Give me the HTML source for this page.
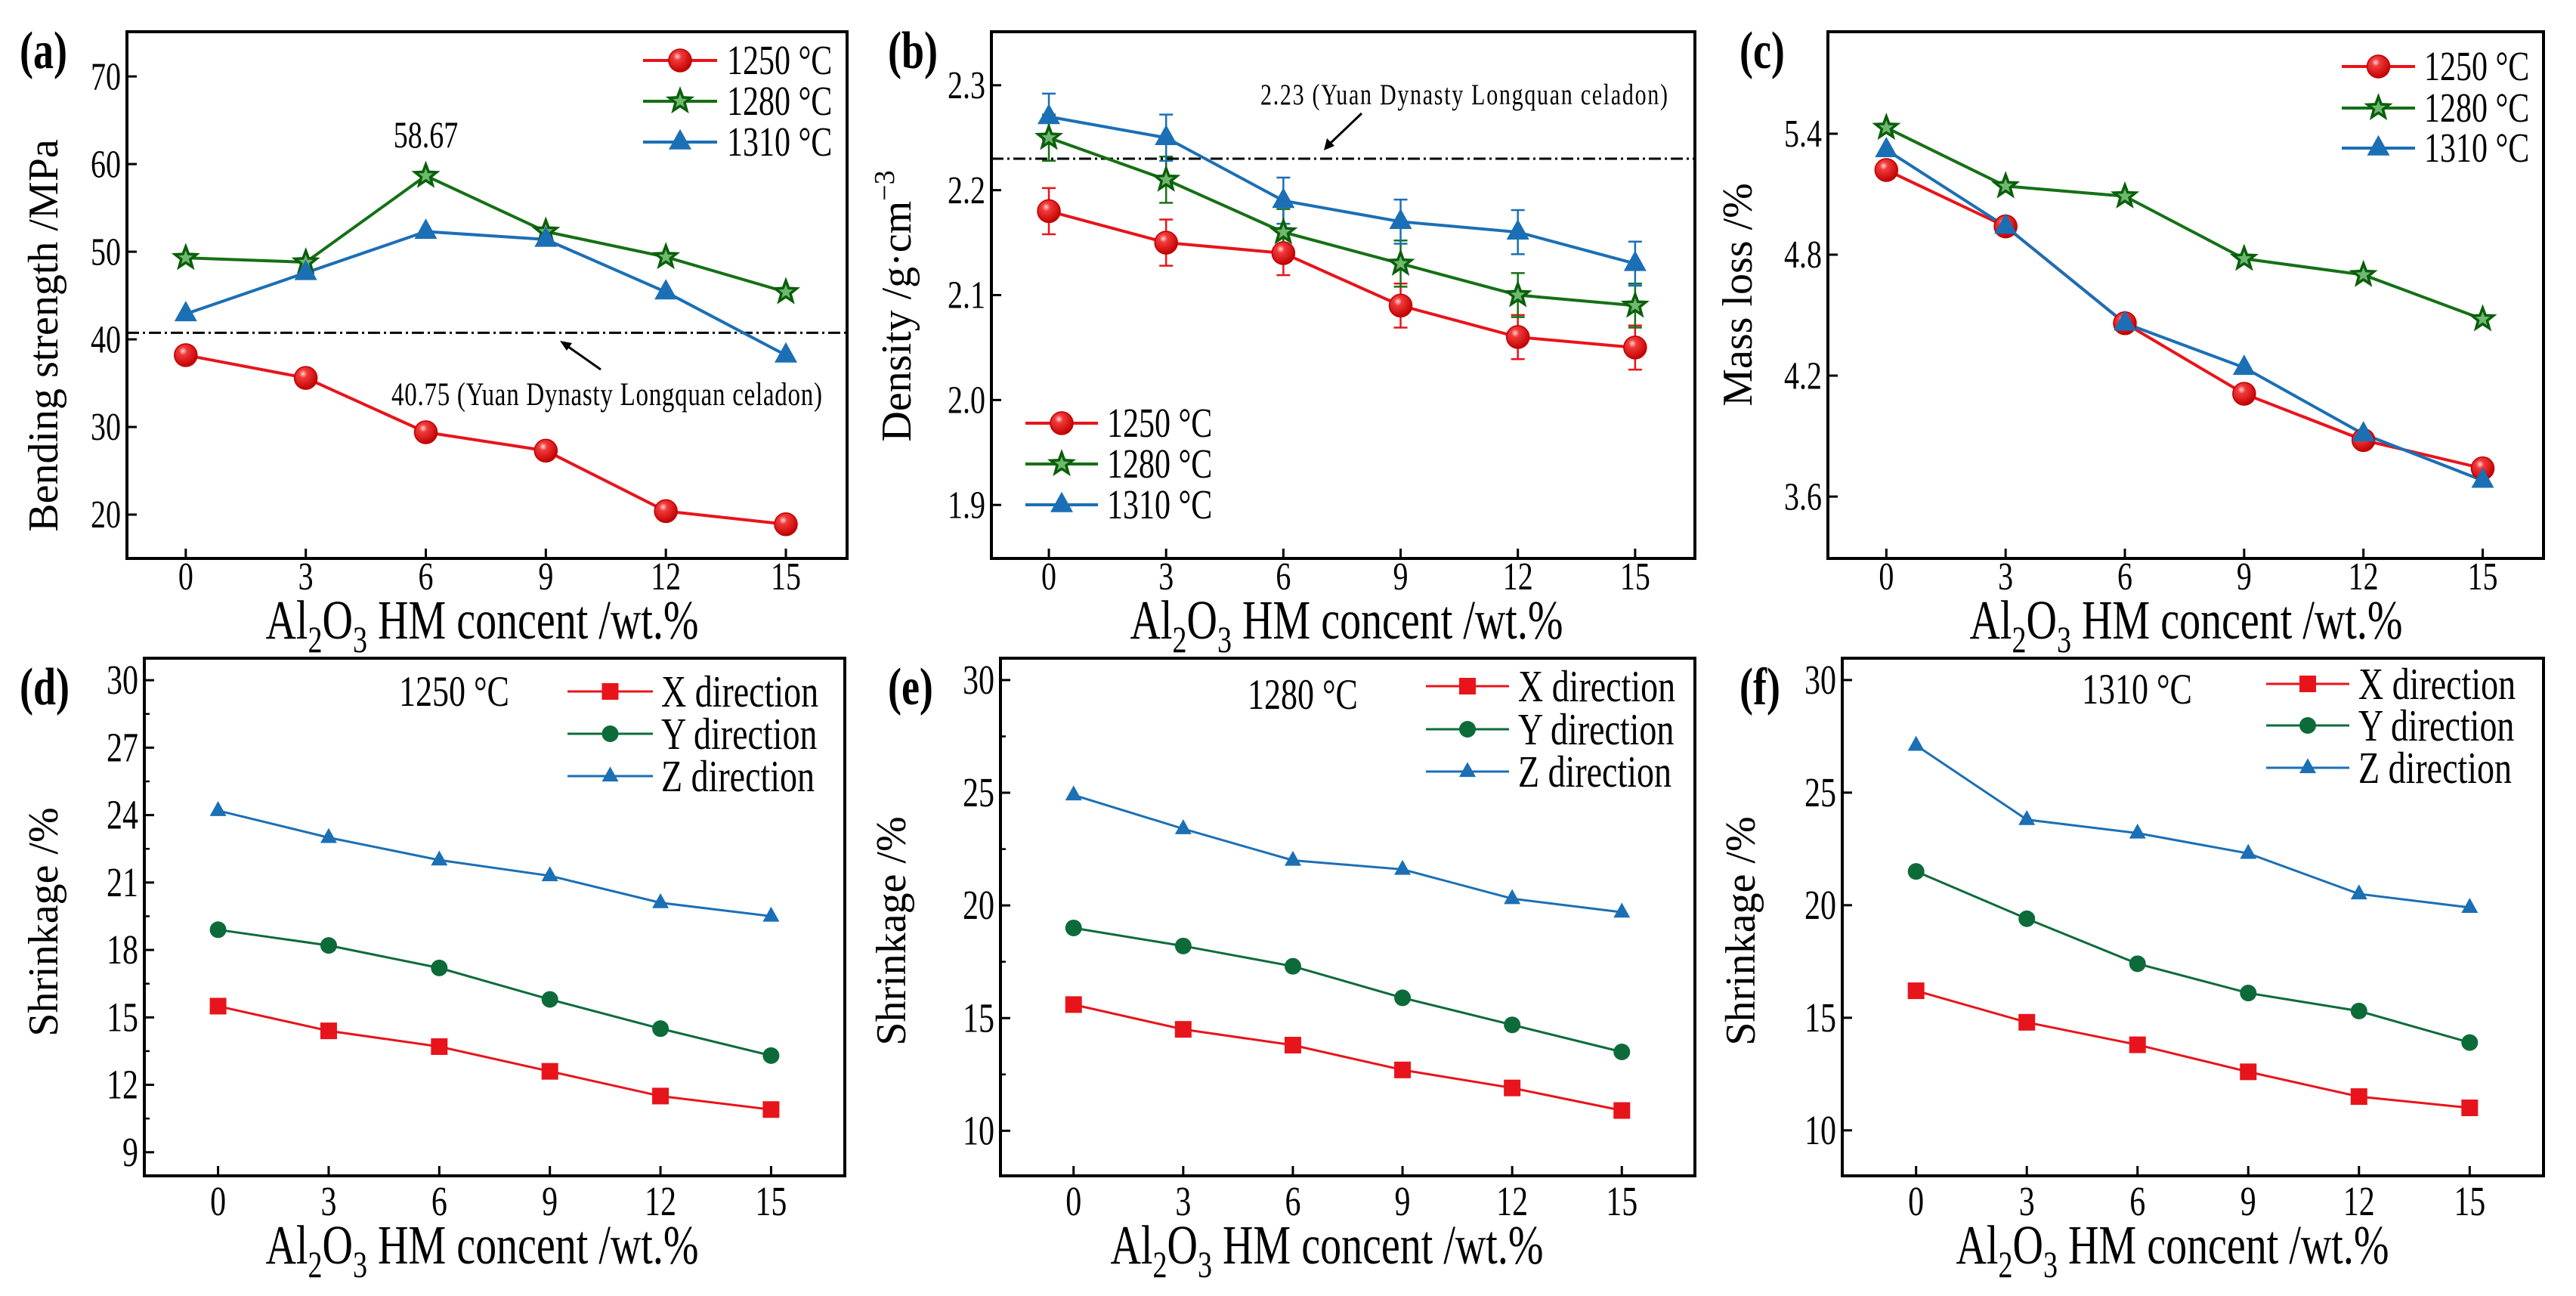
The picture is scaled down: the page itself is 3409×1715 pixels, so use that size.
<!DOCTYPE html>
<html><head><meta charset="utf-8"><style>
html,body{margin:0;padding:0;background:#fff;}
svg{display:block;font-family:"Liberation Serif",serif;}
</style></head><body>
<svg id="fig" width="3409" height="1715" viewBox="0 0 3409 1715" xmlns="http://www.w3.org/2000/svg">
<defs>
<radialGradient id="gRed" cx="38%" cy="32%" r="70%"><stop offset="0" stop-color="#ffd6d6"/><stop offset="0.25" stop-color="#f23a3a"/><stop offset="1" stop-color="#c00000"/></radialGradient>
</defs>
</svg>
<script>
// ---------- data ----------
const xCats = [0, 3, 6, 9, 12, 15];
const xTickLabels = ["0", "3", "6", "9", "12", "15"];
// (a) bending strength
const bend1250 = [38.2, 35.6, 29.4, 27.3, 20.4, 18.9];
const bend1280 = [49.3, 48.8, 58.67, 52.3, 49.4, 45.4];
const bend1310 = [42.9, 47.6, 52.3, 51.4, 45.4, 38.2];
const bendTicks = [20, 30, 40, 50, 60, 70];
const bendRef = 40.75;
// (b) density
const dens1250 = [2.18, 2.15, 2.14, 2.09, 2.06, 2.05];
const dens1280 = [2.25, 2.21, 2.16, 2.13, 2.10, 2.09];
const dens1310 = [2.27, 2.25, 2.19, 2.17, 2.16, 2.13];
const densErr1250 = [0.022, 0.022, 0.021, 0.021, 0.021, 0.021];
const densErr1280 = [0.022, 0.022, 0.022, 0.022, 0.021, 0.021];
const densErr1310 = [0.022, 0.022, 0.022, 0.021, 0.021, 0.021];
const densTicks = [1.9, 2.0, 2.1, 2.2, 2.3];
const densRef = 2.23;
// (c) mass loss
const mass1250 = [5.22, 4.94, 4.46, 4.11, 3.88, 3.74];
const mass1280 = [5.43, 5.14, 5.09, 4.78, 4.70, 4.48];
const mass1310 = [5.32, 4.94, 4.46, 4.24, 3.91, 3.68];
const massTicks = [3.6, 4.2, 4.8, 5.4];
// (d) shrinkage 1250
const shrD_X = [15.5, 14.4, 13.7, 12.6, 11.5, 10.9];
const shrD_Y = [18.9, 18.2, 17.2, 15.8, 14.5, 13.3];
const shrD_Z = [24.2, 23.0, 22.0, 21.3, 20.1, 19.5];
const shrDTicks = [9, 12, 15, 18, 21, 24, 27, 30];
// (e) shrinkage 1280
const shrE_X = [15.6, 14.5, 13.8, 12.7, 11.9, 10.9];
const shrE_Y = [19.0, 18.2, 17.3, 15.9, 14.7, 13.5];
const shrE_Z = [24.9, 23.4, 22.0, 21.6, 20.3, 19.7];
const shrETicks = [10, 15, 20, 25, 30];
// (f) shrinkage 1310
const shrF_X = [16.2, 14.8, 13.8, 12.6, 11.5, 11.0];
const shrF_Y = [21.5, 19.4, 17.4, 16.1, 15.3, 13.9];
const shrF_Z = [27.1, 23.8, 23.2, 22.3, 20.5, 19.9];
const shrFTicks = [10, 15, 20, 25, 30];

// ---------- drawing ----------
const NS = "http://www.w3.org/2000/svg";
const svg = document.getElementById("fig");
function el(tag, attrs, parent) {
  const e = document.createElementNS(NS, tag);
  for (const k in attrs) e.setAttribute(k, attrs[k]);
  (parent || svg).appendChild(e);
  return e;
}
const RED = "#e8141b", GREEN = "#157015", BLUE = "#1b6fb5", TEAL = "#0d6b3a";

function marker(g, type, cx, cy, s, color) {
  let m;
  if (type === "circle") {
    m = el("circle", {cx: cx, cy: cy, r: s, fill: "url(#gRed)", stroke: "#c00000", "stroke-width": 1.5}, g);
  } else if (type === "dot") {
    m = el("circle", {cx: cx, cy: cy, r: s, fill: color}, g);
  } else if (type === "square") {
    m = el("rect", {x: cx - s, y: cy - s, width: 2 * s, height: 2 * s, fill: color}, g);
  } else if (type === "tri") {
    m = el("polygon", {points: `${cx},${cy - s * 1.15} ${cx - s},${cy + s * 0.65} ${cx + s},${cy + s * 0.65}`, fill: color}, g);
  } else if (type === "star") {
    let pts = [];
    for (let i = 0; i < 10; i++) {
      const r = i % 2 === 0 ? s : s * 0.42;
      const a = -Math.PI / 2 + i * Math.PI / 5;
      pts.push((cx + r * Math.cos(a)).toFixed(1) + "," + (cy + r * Math.sin(a)).toFixed(1));
    }
    m = el("polygon", {points: pts.join(" "), fill: "#6fb86f", stroke: "#0b5e0b", "stroke-width": 3.5}, g);
  }
  
  
  return m;
}

function xTitle(g, cx, cy, fs) {
  const t = el("text", {x: cx, y: cy, "text-anchor": "middle", "font-size": fs, fill: "#000"}, g);
  
  
  t.innerHTML = 'Al<tspan font-size="' + (fs * 0.68) + '" dy="' + (fs * 0.25) + '">2</tspan><tspan dy="' + (-fs * 0.25) + '">O</tspan><tspan font-size="' + (fs * 0.68) + '" dy="' + (fs * 0.25) + '">3</tspan><tspan dy="' + (-fs * 0.25) + '"> HM concent /wt.%</tspan>';
}

function panel(c) {
  const g = el("g", {});
  
  
  const X = v => c.l + (v - c.x0) / (c.x1 - c.x0) * (c.r - c.l);
  const Y = v => c.b - (v - c.y0) / (c.y1 - c.y0) * (c.b - c.t);
  xCats.forEach((v, i) => {
    const tk = el("line", {x1: X(v), x2: X(v), y1: c.b, y2: c.b - 13, stroke: "#000", "stroke-width": 3}, g);
    
    
    const tl = el("text", {x: X(v), y: c.xlabY, "text-anchor": "middle", "font-size": c.tfs}, g);
    
    
    tl.textContent = xTickLabels[i];
  });
  c.yTicks.forEach((v, i) => {
    const tk = el("line", {x1: c.l, x2: c.l + 13, y1: Y(v), y2: Y(v), stroke: "#000", "stroke-width": 3}, g);
    
    
    if (c.minor && i < c.yTicks.length - 1) {
      const mv = (v + c.yTicks[i + 1]) / 2;
      const mk = el("line", {x1: c.l, x2: c.l + 7, y1: Y(mv), y2: Y(mv), stroke: "#000", "stroke-width": 2.5}, g);
      
      
    }
    const tl = el("text", {x: c.l - 8, y: Y(v) + c.tfs * 0.43, "text-anchor": "end", "font-size": c.tfs}, g);
    
    
    tl.textContent = c.fmt(v);
  });
  if (c.ref !== undefined) {
    const rl = el("line", {x1: c.l, x2: c.r, y1: Y(c.ref), y2: Y(c.ref), stroke: "#000", "stroke-width": 3, "stroke-dasharray": "16,5,3,5"}, g);
    
    
  }
  c.series.forEach(s => {
    const ln = el("polyline", {points: s.vals.map((v, i) => X(xCats[i]) + "," + Y(v)).join(" "), fill: "none", stroke: s.color, "stroke-width": c.lw}, g);
    
    
  });
  c.series.forEach(s => {
    if (s.err) s.vals.forEach((v, i) => {
      const x = X(xCats[i]), y1 = Y(v + s.err[i]), y2 = Y(v - s.err[i]);
      const eb = el("path", {d: `M${x},${y1}V${y2}M${x - 9},${y1}H${x + 9}M${x - 9},${y2}H${x + 9}`, stroke: s.color, "stroke-width": 2.5, fill: "none"}, g);
      
      
    });
  });
  c.series.forEach(s => {
    s.vals.forEach((v, i) => marker(g, s.marker, X(xCats[i]), Y(v), c.ms, s.color));
  });
  const bx = el("rect", {x: c.l, y: c.t, width: c.r - c.l, height: c.b - c.t, fill: "none", stroke: "#000", "stroke-width": 4}, g);
  
  
  c.series.forEach((s, i) => {
    const ly = c.leg.ys[i];
    const ll = el("line", {x1: c.leg.x1, x2: c.leg.x2, y1: ly, y2: ly, stroke: s.color, "stroke-width": c.lw}, g);
    
    
    marker(g, s.marker, (c.leg.x1 + c.leg.x2) / 2, ly, c.ms, s.color);
    const lt = el("text", {x: c.leg.tx, y: ly + c.leg.fs * 0.43, "font-size": c.leg.fs}, g);
    
    
    lt.textContent = s.name;
  });
  const pl = el("text", {x: c.pl[0], y: c.pl[1], "font-size": 54, "font-weight": "bold"}, g);
  
  
  pl.textContent = c.label;
  const yt = el("text", {x: 0, y: 0, "text-anchor": "middle", "font-size": 56, transform: `translate(${c.yt[0]},${c.yt[1]}) rotate(-90)`}, g);
  
  
  yt.innerHTML = c.ytitle;
  xTitle(g, c.xt[0], c.xt[1], 56);
  return {g: g, X: X, Y: Y};
}

const f1 = v => v.toFixed(1);
const f0 = v => String(v);

const pa = panel({name: "panel-a-bending", label: "(a)", pl: [26, 90], l: 168, r: 1121, t: 42, b: 739, x0: -1.47, x1: 16.53, y0: 15.0, y1: 75.1,
  yTicks: bendTicks, fmt: f0, tfs: 40, xlabY: 780, lw: 4, ms: 15, ref: bendRef,
  series: [{key: "1250", name: "1250 °C", vals: bend1250, color: RED, marker: "circle"},
           {key: "1280", name: "1280 °C", vals: bend1280, color: GREEN, marker: "star"},
           {key: "1310", name: "1310 °C", vals: bend1310, color: BLUE, marker: "tri"}],
  leg: {x1: 851, x2: 949, tx: 962, ys: [80, 134, 188], fs: 42},
  yt: [76, 444], ytitle: "Bending strength /MPa", xt: [638, 845]});
let t = el("text", {x: pa.X(6), y: 195, "text-anchor": "middle", "font-size": 38});


t.textContent = bend1280[2].toFixed(2);
t = el("text", {x: 518, y: 536, "font-size": 33, textLength: 570});


t.textContent = "40.75 (Yuan Dynasty Longquan celadon)";
let ar = el("path", {d: "M795,489L748,456", stroke: "#000", "stroke-width": 3});


ar = el("polygon", {points: "741,451 757,454 750,464"});



const pb = panel({name: "panel-b-density", label: "(b)", pl: [1175, 90], l: 1312, r: 2243, t: 42, b: 739, x0: -1.47, x1: 16.53, y0: 1.849, y1: 2.351,
  yTicks: densTicks, fmt: f1, tfs: 40, xlabY: 780, lw: 4, ms: 15, ref: densRef,
  series: [{key: "1250", name: "1250 °C", vals: dens1250, err: densErr1250, color: RED, marker: "circle"},
           {key: "1280", name: "1280 °C", vals: dens1280, err: densErr1280, color: GREEN, marker: "star"},
           {key: "1310", name: "1310 °C", vals: dens1310, err: densErr1310, color: BLUE, marker: "tri"}],
  leg: {x1: 1357, x2: 1453, tx: 1465, ys: [560, 614, 668], fs: 42},
  yt: [1205, 405], ytitle: 'Density /g·cm<tspan font-size="38" dy="-22">−3</tspan>', xt: [1782, 845]});
t = el("text", {x: 1668, y: 138, "font-size": 30, textLength: 539});


t.textContent = "2.23 (Yuan Dynasty Longquan celadon)";
ar = el("path", {d: "M1802,150L1758,192", stroke: "#000", "stroke-width": 3});


ar = el("polygon", {points: "1752,199 1756,183 1766,193"});



panel({name: "panel-c-mass-loss", label: "(c)", pl: [2302, 90], l: 2419, r: 3366, t: 42, b: 739, x0: -1.47, x1: 16.53, y0: 3.293, y1: 5.906,
  yTicks: massTicks, fmt: f1, tfs: 40, xlabY: 780, lw: 4, ms: 15,
  series: [{key: "1250", name: "1250 °C", vals: mass1250, color: RED, marker: "circle"},
           {key: "1280", name: "1280 °C", vals: mass1280, color: GREEN, marker: "star"},
           {key: "1310", name: "1310 °C", vals: mass1310, color: BLUE, marker: "tri"}],
  leg: {x1: 3099, x2: 3196, tx: 3208, ys: [88, 143, 196], fs: 42},
  yt: [2318, 390], ytitle: "Mass loss /%", xt: [2893, 845]});

function bottom(name, label, pl, l, r, x0v, x1v, y0v, y1v, ticks, minor, X, Yv, Z, leg, yt, xt, temp, tempPos) {
  panel({name: name, label: label, pl: pl, l: l, r: r, t: 871, b: 1556, x0: x0v, x1: x1v, y0: y0v, y1: y1v,
    yTicks: ticks, fmt: f0, minor: minor, tfs: 42, xlabY: 1608, lw: 3, ms: 11,
    series: [{key: "x", name: "X direction", vals: X, color: RED, marker: "square"},
             {key: "y", name: "Y direction", vals: Yv, color: TEAL, marker: "dot"},
             {key: "z", name: "Z direction", vals: Z, color: BLUE, marker: "tri"}],
    leg: leg, yt: yt, ytitle: "Shrinkage /%", xt: xt});
  const tt = el("text", {x: tempPos[0], y: tempPos[1], "font-size": 44});
  
  
  tt.textContent = temp;
}
bottom("panel-d-shrinkage-1250", "(d)", [26, 932], 191, 1118, -2.0, 17.0, 7.95, 30.98, shrDTicks, true, shrD_X, shrD_Y, shrD_Z,
  {x1: 751, x2: 864, tx: 875, ys: [915, 971, 1027], fs: 46}, [76, 1220], [638, 1672], "1250 °C", [528, 934]);
bottom("panel-e-shrinkage-1280", "(e)", [1175, 932], 1324, 2243, -2.0, 17.0, 8.0, 30.97, shrETicks, true, shrE_X, shrE_Y, shrE_Z,
  {x1: 1887, x2: 1997, tx: 2009, ys: [908, 965, 1021], fs: 46}, [1198, 1232], [1756, 1672], "1280 °C", [1651, 938]);
bottom("panel-f-shrinkage-1310", "(f)", [2302, 932], 2438, 3366, -2.0, 17.0, 7.98, 30.97, shrFTicks, false, shrF_X, shrF_Y, shrF_Z,
  {x1: 2999, x2: 3109, tx: 3121, ys: [905, 960, 1016], fs: 46}, [2322, 1232], [2875, 1672], "1310 °C", [2755, 931]);

// vertical stretch of horizontal text to match the reference's tall glyphs
svg.querySelectorAll("text").forEach(tx => {
  if (tx.getAttribute("transform")) return;
  const x = +tx.getAttribute("x"), y = +tx.getAttribute("y");
  tx.setAttribute("transform", `translate(${x},${y}) scale(1,1.3) translate(${-x},${-y})`);
});
</script>
</body></html>
